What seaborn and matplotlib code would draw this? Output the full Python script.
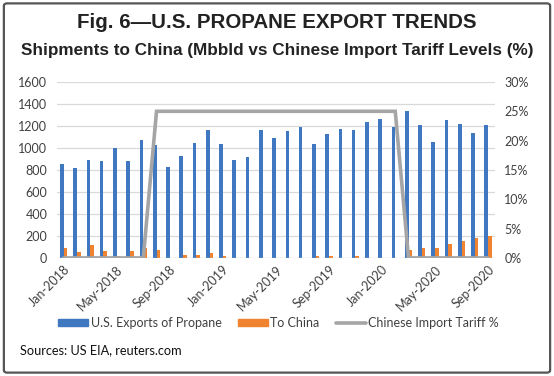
import numpy as np
import pandas as pd
import matplotlib
matplotlib.use('Agg')
import matplotlib.pyplot as plt
import seaborn as sns
from matplotlib.lines import Line2D
from matplotlib.patches import Patch, FancyBboxPatch

# Monthly data, Jan-2018 .. Sep-2020
MONTHS = [f'{m}-{y}' for y in (2018, 2019, 2020)
          for m in ('Jan', 'Feb', 'Mar', 'Apr', 'May', 'Jun',
                    'Jul', 'Aug', 'Sep', 'Oct', 'Nov', 'Dec')][:33]

US_EXPORTS = [851, 821, 893, 881, 1003, 881, 1075, 1030, 824, 931, 1042, 1164,
              1036, 893, 919, 1167, 1087, 1158, 1191, 1036, 1125, 1170, 1161, 1236,
              1260, 1191, 1334, 1212, 1057, 1251, 1218, 1140, 1209]

TO_CHINA = [86, 55, 120, 62, 18, 62, 86, 74, 0, 31, 25, 49,
            18, 0, 0, 0, 0, 0, 0, 15, 15, 0, 15, 0,
            0, 0, 71, 89, 89, 126, 154, 185, 200]

TARIFF = [0, 0, 0, 0, 0, 0, 0, 25, 25, 25, 25, 25,
          25, 25, 25, 25, 25, 25, 25, 25, 25, 25, 25, 25,
          25, 25, 0, 0, 0, 0, 0, 0, 0]

SERIES = ['U.S. Exports of Propane', 'To China']
LINE_LABEL = 'Chinese Import Tariff %'
BLUE = '#3F78C1'
ORANGE = '#F0832F'
GRAY = '#A5A5A5'

sns.set_theme(style='white')
plt.rcParams['font.family'] = ['Lato', 'DejaVu Sans']

df = pd.DataFrame({
    'Month': MONTHS * 2,
    'Series': [SERIES[0]] * len(MONTHS) + [SERIES[1]] * len(MONTHS),
    'Value': US_EXPORTS + TO_CHINA,
})

fig = plt.figure(figsize=(5.54, 3.76), dpi=100)
ax = fig.add_axes([0.103, 0.314, 0.79, 0.468])

sns.barplot(data=df, x='Month', y='Value', hue='Series', order=MONTHS,
            palette=[BLUE, ORANGE], width=0.55, ax=ax, legend=False,
            saturation=1, linewidth=0)

ax.set_ylim(0, 1600)
ax.set_yticks(range(0, 1601, 200))
ax.set_xlim(-0.5, len(MONTHS) - 0.5)
ax.set_xlabel('')
ax.set_ylabel('')
ax.grid(axis='y', color='#D9D9D9', lw=0.9)
ax.set_axisbelow(True)
for s in ax.spines.values():
    s.set_visible(False)
ax.axhline(0, color='#D9D9D9', lw=0.9, zorder=1)

tick_pos = list(range(0, len(MONTHS), 4))
ax.set_xticks(tick_pos)
ax.set_xticklabels([MONTHS[i] for i in tick_pos], rotation=45, ha='right',
                   rotation_mode='anchor', fontsize=9, color='#404040')
ax.tick_params(axis='x', length=0, pad=4)
ax.tick_params(axis='y', length=0, labelsize=9, labelcolor='#404040', pad=7)

ax2 = ax.twinx()
ax2.plot(range(len(MONTHS)), TARIFF, color=GRAY, lw=2.6, solid_joinstyle='miter')
ax2.set_ylim(0, 30)
ax2.set_yticks(range(0, 31, 5))
ax2.set_yticklabels([f'{v}%' for v in range(0, 31, 5)])
ax2.tick_params(axis='y', length=0, labelsize=9, labelcolor='#404040', pad=7)
ax2.grid(False)
for s in ax2.spines.values():
    s.set_visible(False)

handles = [Patch(color=BLUE, label=SERIES[0]),
           Patch(color=ORANGE, label=SERIES[1]),
           Line2D([], [], color=GRAY, lw=2.6, label=LINE_LABEL)]
fig.legend(handles=handles, loc='center', bbox_to_anchor=(0.503, 0.141), ncol=3,
           frameon=False, fontsize=9, handlelength=2.4, handleheight=0.5,
           columnspacing=1.3, handletextpad=0.2, labelcolor='#404040')

fig.text(0.5, 0.94, 'Fig. 6\u2014U.S. PROPANE EXPORT TRENDS', ha='center', va='center',
         fontsize=14.8, fontweight='bold', family='Liberation Sans', color='#222222')
fig.text(0.5, 0.867, 'Shipments to China (Mbbld vs Chinese Import Tariff Levels (%)',
         ha='center', va='center', fontsize=12.3, fontweight='bold',
         family='Liberation Sans', color='#222222')
fig.text(0.036, 0.069, 'Sources: US EIA, reuters.com', ha='left', va='center',
         fontsize=9.2, color='#111111')

fig.patches.append(FancyBboxPatch((0.007, 0.009), 0.986, 0.982,
                                  boxstyle='round,pad=0,rounding_size=0.006',
                                  transform=fig.transFigure, fill=False,
                                  ec='#555555', lw=1.6))

fig.savefig('out.png', dpi=100)
